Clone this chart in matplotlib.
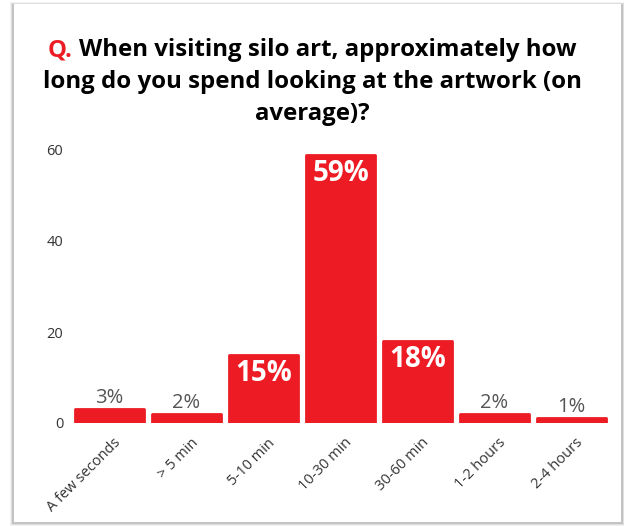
import matplotlib
matplotlib.use('Agg')
import matplotlib.pyplot as plt
from matplotlib.patches import Rectangle
from matplotlib.transforms import ScaledTranslation

plt.rcParams['font.family'] = ['Open Sans', 'DejaVu Sans']

categories = ['A few seconds', '> 5 min', '5-10 min', '10-30 min',
              '30-60 min', '1-2 hours', '2-4 hours']
values = [3, 2, 15, 59, 18, 2, 1]
yticks = [0, 20, 40, 60]

red = '#ED1C24'
W, H = 624, 526

fig = plt.figure(figsize=(W / 100, H / 100), dpi=100)

# card with a soft grey shadow
for i, a in enumerate([0.05, 0.08, 0.12]):
    d = 3 - i
    fig.patches.append(Rectangle(((13 - d) / W, (3 - d) / H), (609 + 2 * d) / W,
                                 (518 + 2 * d) / H, transform=fig.transFigure,
                                 facecolor='black', alpha=a, edgecolor='none',
                                 zorder=-2))
fig.patches.append(Rectangle((14 / W, 4 / H), 607 / W, 518 / H,
                             transform=fig.transFigure, facecolor='white',
                             edgecolor='none', zorder=-1))

ax = fig.add_axes([71 / W, (H - 423) / H, (610 - 71) / W, (423 - 150) / H])
ax.set_zorder(2)
ax.patch.set_alpha(0)

x = range(len(categories))
bars = ax.bar(x, values, width=0.89, color=red, edgecolor=red, linewidth=2,
              joinstyle='round')

for b, v in zip(bars, values):
    cx = b.get_x() + b.get_width() / 2
    if v >= 10:
        ax.annotate(f'{v}%', (cx, v), xytext=(0, -3), textcoords='offset points',
                    ha='center', va='top', color='white', fontsize=20,
                    fontweight='bold')
    else:
        ax.annotate(f'{v}%', (cx, v), xytext=(0, 1), textcoords='offset points',
                    ha='center', va='bottom', color='#555555', fontsize=14.5)

ax.set_ylim(0, 60)
ax.set_xlim(-0.5, len(categories) - 0.5)
ax.set_yticks(yticks)
ax.set_xticks(list(x))
ax.set_xticklabels(categories, rotation=45, ha='right', rotation_mode='anchor')
ax.tick_params(length=0, labelsize=10.5, labelcolor='#333333')
ax.tick_params(axis='x', pad=9)
ax.tick_params(axis='y', pad=5.5)
shift = ScaledTranslation(4 / 100, 0, fig.dpi_scale_trans)
for lbl in ax.get_xticklabels():
    lbl.set_transform(lbl.get_transform() + shift)
for s in ax.spines.values():
    s.set_visible(False)

# title, "Q." in red
fig.canvas.draw()
r = fig.canvas.get_renderer()
tfont = dict(fontsize=17.3, fontweight='bold')
line1 = 'Q. When visiting silo art, approximately how'
tmp = fig.text(0.5, 1 - 50 / H, line1, ha='center', va='center', **tfont)
bb = tmp.get_window_extent(r)
tmp.remove()
tmp = fig.text(0, 0, 'Q. ', **tfont)
qw = tmp.get_window_extent(r).width
tmp.remove()
fig.text(bb.x0 / W, 1 - 50 / H, 'Q.', color=red, ha='left', va='center',
         **tfont)
fig.text((bb.x0 + qw) / W, 1 - 50 / H,
         'When visiting silo art, approximately how', color='black',
         ha='left', va='center', **tfont)
fig.text(0.5, 1 - 82 / H, 'long do you spend looking at the artwork (on',
         ha='center', va='center', **tfont)
fig.text(0.5, 1 - 114 / H, 'average)?', ha='center', va='center', **tfont)

fig.savefig('out.png', dpi=100)
